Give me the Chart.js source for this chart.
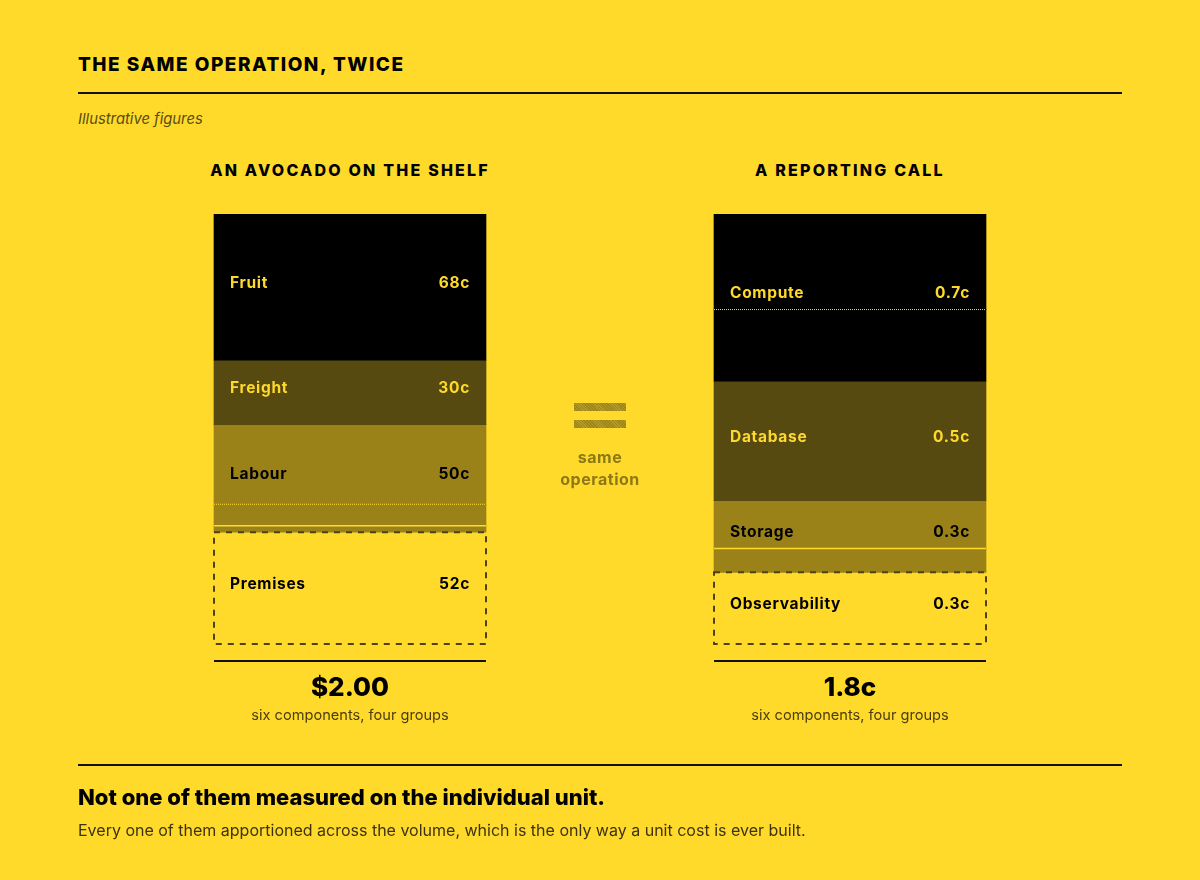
<!DOCTYPE html>
<html>
<head>
<meta charset="utf-8">
<script src="https://cdn.jsdelivr.net/npm/chart.js@4/dist/chart.umd.min.js"></script>
<style>
  html, body { margin:0; padding:0; }
  body { width:1200px; height:880px; background:#FFDA2A; position:relative; overflow:hidden;
         font-family: Inter, "Noto Sans", "DejaVu Sans", sans-serif; color:#000; }
  .abs { position:absolute; white-space:nowrap; }
  #chartWrap { position:absolute; left:0; top:0; width:1200px; height:880px; }
  .title { left:78px; top:53px; line-height:24px; font-size:19px; font-weight:800; letter-spacing:1.5px; }
  .rule { position:absolute; left:78px; width:1044px; height:2px; background:#111; }
  .sub { left:78px; top:109px; line-height:20px; font-size:14.8px; font-style:italic; color:#5b4c12; }
  .ptitle { top:159px; line-height:22px; font-size:16px; font-weight:800; letter-spacing:2.2px; width:400px; text-align:center; }
  .base { position:absolute; top:660px; width:272px; height:2px; background:#111; }
  .total { top:670px; line-height:34px; font-size:26px; font-weight:800; width:300px; text-align:center; }
  .tnote { top:705px; line-height:20px; font-size:14.6px; color:#4a3e10; width:300px; text-align:center; }
  .eq { position:absolute; left:574px; width:52px; height:8px;
        background: repeating-linear-gradient(45deg, #9a8420 0 1px, #b59b1f 1px 2px); }
  .same { left:530px; top:446px; width:140px; text-align:center; line-height:22px; font-size:16px; font-weight:700; letter-spacing:0.5px; color:#8c7816; }
  .foot1 { left:78px; top:783px; line-height:28px; font-size:22px; font-weight:800; letter-spacing:0px; }
  .foot2 { left:78px; top:820px; line-height:20px; font-size:16px; color:#3d3310; }
</style>
</head>
<body>
<div class="abs title">THE SAME OPERATION, TWICE</div>
<div class="rule" style="top:92px"></div>
<div class="abs sub">Illustrative figures</div>

<div class="abs ptitle" style="left:150px">AN AVOCADO ON THE SHELF</div>
<div class="abs ptitle" style="left:650px">A REPORTING CALL</div>

<div id="chartWrap"><canvas id="c" width="1200" height="880"></canvas></div>

<div class="eq" style="top:403px"></div>
<div class="eq" style="top:420px"></div>
<div class="abs same">same<br>operation</div>

<div class="base" style="left:214px"></div>
<div class="base" style="left:714px"></div>
<div class="abs total" style="left:200px" id="totL"></div>
<div class="abs tnote" style="left:200px">six components, four groups</div>
<div class="abs total" style="left:700px" id="totR"></div>
<div class="abs tnote" style="left:700px">six components, four groups</div>

<div class="rule" style="top:764px"></div>
<div class="abs foot1">Not one of them measured on the individual unit.</div>
<div class="abs foot2">Every one of them apportioned across the volume, which is the only way a unit cost is ever built.</div>

<script>
// ---- data ----
const panels = ['AN AVOCADO ON THE SHELF', 'A REPORTING CALL'];
const leftGroups = ['Fruit', 'Freight', 'Labour', 'Premises'];
const leftComponentValues = [68, 30, 37, 10, 3, 52];      // cents
const leftComponentGroup  = [0, 1, 2, 2, 2, 3];
const rightGroups = ['Compute', 'Database', 'Storage', 'Observability'];
const rightComponentValues = [0.4, 0.3, 0.5, 0.2, 0.1, 0.3]; // cents
const rightComponentGroup  = [0, 0, 1, 2, 2, 3];

// ---- styles ----
const groupFill = ['#000000', '#574A10', '#9A8218', 'rgba(0,0,0,0)'];
const groupText = ['#FFD92A', '#FFD92A', '#000000', '#000000'];
const BG = '#FFDA2A';

const sum = a => a.reduce((s, v) => s + v, 0);
const leftTotal = sum(leftComponentValues);
const rightTotal = sum(rightComponentValues);
function groupSum(vals, grp, g) { let s = 0; vals.forEach((v, i) => { if (grp[i] === g) s += v; }); return s; }
const fmtL = v => Math.round(v) + 'c';
const fmtR = v => (Math.round(v * 10) / 10).toFixed(1) + 'c';

document.getElementById('totL').textContent = '$' + (leftTotal / 100).toFixed(2);
document.getElementById('totR').textContent = fmtR(rightTotal);

const datasets = [];
leftComponentValues.forEach((v, i) => {
  const g = leftComponentGroup[i];
  datasets.push({ label: leftGroups[g], data: [v, null], yAxisID: 'yL', side: 0, group: g, comp: i,
    backgroundColor: groupFill[g], borderWidth: 0, barThickness: 272, dashedBox: g === 3 });
});
rightComponentValues.forEach((v, i) => {
  const g = rightComponentGroup[i];
  datasets.push({ label: rightGroups[g], data: [null, v], yAxisID: 'yR', side: 1, group: g, comp: i,
    backgroundColor: groupFill[g], borderWidth: 0, barThickness: 272, dashedBox: g === 3 });
});

const labelPlugin = {
  id: 'segLabels',
  afterDatasetsDraw(chart) {
    const ctx = chart.ctx;
    const sides = [
      { groups: leftGroups, vals: leftComponentValues, grp: leftComponentGroup, fmt: fmtL },
      { groups: rightGroups, vals: rightComponentValues, grp: rightComponentGroup, fmt: fmtR }
    ];
    const seps = {};
    chart.data.datasets.forEach((ds, di) => {
      const el = chart.getDatasetMeta(di).data[ds.side];
      if (!el) return;
      const key = ds.side + '-' + ds.group;
      const top = Math.min(el.y, el.base), bot = Math.max(el.y, el.base);
      if (!seps[key]) seps[key] = { side: ds.side, group: ds.group, x: el.x, w: el.width, top, bot, bounds: [] };
      else { seps[key].bounds.push(top); seps[key].top = Math.min(seps[key].top, top); seps[key].bot = Math.max(seps[key].bot, bot); }
    });
    Object.values(seps).forEach(s => {
      s.bounds.forEach((y, k) => {
        ctx.save();
        ctx.strokeStyle = BG;
        if (k === 0 && !(s.side === 1 && s.group === 2)) { ctx.setLineDash([1, 1]); ctx.lineWidth = 1; }
        else { ctx.lineWidth = 1.6; }
        ctx.beginPath();
        ctx.moveTo(s.x - s.w / 2, y); ctx.lineTo(s.x + s.w / 2, y); ctx.stroke();
        ctx.restore();
      });
      const dsAny = chart.data.datasets.find(d => d.side === s.side && d.group === s.group);
      if (dsAny.dashedBox) {
        ctx.save();
        ctx.strokeStyle = '#4d4214';
        ctx.lineWidth = 2;
        ctx.setLineDash([6, 6]);
        ctx.strokeRect(s.x - s.w / 2, s.top, s.w, s.bot - s.top);
        ctx.restore();
      }
      const sd = sides[s.side];
      const cy = (s.top + s.bot) / 2 - 4;
      ctx.save();
      ctx.font = '700 15.5px Inter, "Noto Sans", sans-serif';
      try { ctx.letterSpacing = '0.7px'; } catch (e) {}
      ctx.fillStyle = groupText[s.group];
      ctx.textBaseline = 'middle';
      ctx.textAlign = 'left';
      ctx.fillText(sd.groups[s.group], s.x - s.w / 2 + 16, cy);
      ctx.textAlign = 'right';
      ctx.fillText(sd.fmt(groupSum(sd.vals, sd.grp, s.group)), s.x + s.w / 2 - 16, cy);
      ctx.restore();
    });
  }
};

new Chart(document.getElementById('c'), {
  type: 'bar',
  data: { labels: panels, datasets },
  options: {
    responsive: false,
    animation: false,
    layout: { padding: { left: 100, right: 100, top: 214, bottom: 236 } },
    plugins: { legend: { display: false }, tooltip: { enabled: false } },
    scales: {
      x: { display: false, stacked: true },
      yL: { display: false, stacked: true, reverse: true, min: 0, max: leftTotal },
      yR: { display: false, stacked: true, reverse: true, min: 0, max: rightTotal }
    }
  },
  plugins: [labelPlugin]
});
</script>
</body>
</html>
